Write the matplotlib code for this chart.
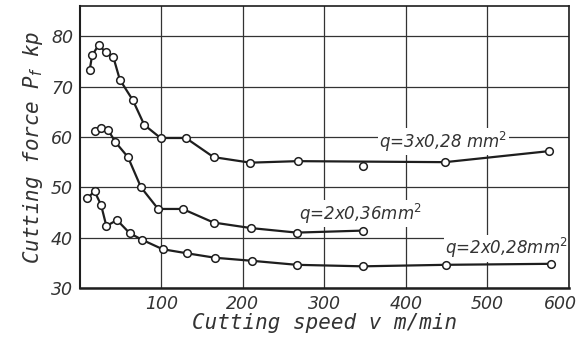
import numpy as np
import matplotlib
matplotlib.use("Agg")
from matplotlib import pyplot as plt
from matplotlib import transforms

# q = 3 x 0,28 mm^2
v1 = [12, 15, 23, 32, 41, 49, 65, 79, 99, 130, 164, 209, 267, 448, 576]
p1 = [73.3, 76.2, 78.3, 76.8, 75.9, 71.4, 67.3, 62.4, 59.8, 59.8, 56.0, 54.9, 55.2, 55.0, 57.2]
# stray point off the curve
v1_off = [347]
p1_off = [54.3]

# q = 2 x 0,36 mm^2
v2 = [18, 26, 35, 43.5, 59, 75, 96, 126, 164, 210, 266, 347]
p2 = [61.2, 61.8, 61.3, 59.0, 56.0, 50.0, 45.7, 45.7, 43.0, 41.9, 41.0, 41.4]

# q = 2 x 0,28 mm^2
v3 = [9, 18, 26, 32.5, 45.5, 61, 76, 101.5, 131, 166, 211, 266, 347, 449, 578]
p3 = [47.8, 49.2, 46.5, 42.3, 43.5, 40.9, 39.6, 37.7, 36.9, 36.0, 35.4, 34.6, 34.3, 34.6, 34.8]

labels = ["q=3x0,28 mm$^2$", "q=2x0,36mm$^2$", "q=2x0,28mm$^2$"]
label_pos = [(446, 59.1), (344, 44.8), (523, 37.9)]

xticks = [100, 200, 300, 400, 500, 600]
yticks = [30, 40, 50, 60, 70, 80]

ink = "#1e1e1e"
tickfont = dict(family="DejaVu Sans", style="italic", size=12.5, color="#333333")
labfont = dict(family="DejaVu Sans Mono", style="italic", size=15, color="#333333")

fig = plt.figure(figsize=(5.83, 3.42), dpi=100)
ax = fig.add_axes([0.137, 0.158, 0.839, 0.824])

for v, p in [(v1, p1), (v2, p2), (v3, p3)]:
    ax.plot(v, p, "-", color=ink, lw=1.6, zorder=3)
    ax.plot(v, p, "o", ms=5.5, mfc="white", mec=ink, mew=1.1, zorder=4)
ax.plot(v1_off, p1_off, "o", ms=5.5, mfc="white", mec=ink, mew=1.1, zorder=4)

for txt, (x, y) in zip(labels, label_pos):
    ax.text(x, y, txt, ha="center", va="center", zorder=2,
            fontfamily="DejaVu Sans", fontstyle="italic", fontsize=12, color="#333333",
            bbox=dict(facecolor="white", edgecolor="none", pad=1))

ax.set_xlim(0, 600)
ax.set_ylim(30, 86)
ax.set_xticks(xticks)
ax.set_yticks(yticks)
ax.set_xticklabels([str(t) for t in xticks], fontdict=tickfont)
ax.set_yticklabels([str(t) for t in yticks], fontdict=tickfont)
ax.tick_params(length=0, pad=5)
# last label sits a little inside so it is not cut at the edge
last = ax.get_xticklabels()[-1]
last.set_transform(last.get_transform() + transforms.ScaledTranslation(-0.09, 0, fig.dpi_scale_trans))

ax.grid(True, color="#333333", lw=0.9, zorder=0)
ax.set_axisbelow(True)
for s in ax.spines.values():
    s.set_color(ink)
    s.set_linewidth(1.2)
ax.spines["bottom"].set_linewidth(1.8)
ax.spines["left"].set_linewidth(1.5)

ax.set_xlabel("Cutting speed v m/min", fontdict=labfont, labelpad=0)
ax.set_ylabel("Cutting force P$_f$ kp", fontdict=labfont, labelpad=4)

fig.savefig("out.png", dpi=100)
